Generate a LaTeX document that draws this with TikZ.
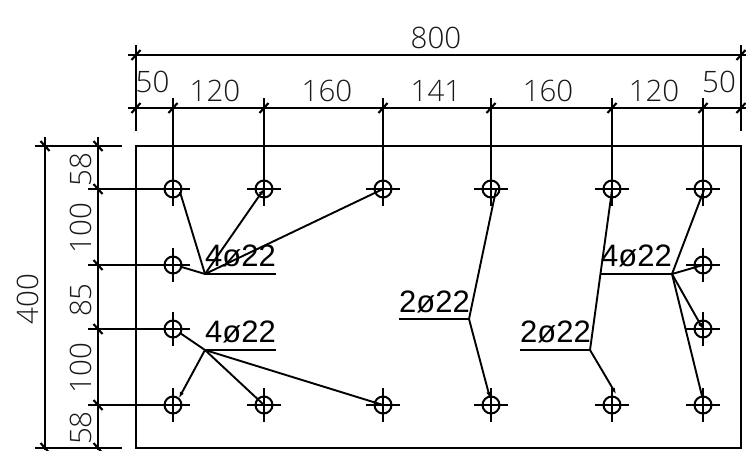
\documentclass[tikz,border=0pt]{standalone}
\usepackage{fontspec}
\usetikzlibrary{arrows.meta}
\setmainfont{Liberation Sans}
\newfontfamily\dimfont{Open Sans Light}
\begin{document}
\begin{tikzpicture}[x=1pt,y=-1pt,
  ln/.style={line width=1.9pt,black},
  tk/.style={line width=2.1pt,black},
  ldr/.style={line width=1.9pt,black,-{Latex[length=6pt,width=4.5pt]}},
  dimtxt/.style={inner sep=0pt,font=\dimfont\fontsize{29.5}{29.5}\selectfont,text=black!90},
  rebartxt/.style={inner sep=0pt,anchor=base west,font=\fontsize{31}{31}\selectfont,text=black},
  barcirc/.style={circle,draw,line width=2pt,minimum size=17pt,inner sep=0pt}]
\useasboundingbox (0,0) rectangle (746,450);
% bars
\foreach \n/\x/\y in {a1/173/189,a2/264/189,a3/383/189,a4/491/189,a5/612/189,a6/703/189,
  b1/173/265,b6/703/265,c1/173/329,c6/703/329,
  d1/173/405,d2/264/405,d3/383/405,d4/491/405,d5/612/405,d6/703/405}{
  \node[barcirc] (\n) at (\x,\y) {};
  \draw[ln] (\x-17,\y) -- (\x+17,\y) (\x,\y-17) -- (\x,\y+17);
}
% slab
\draw[ln] (136,146) rectangle (741,448);
% dimension lines top
\coordinate (tl) at (128,55); \coordinate (tr) at (746,55);
\coordinate (ml) at (128,108); \coordinate (mr) at (746,108);
\draw[ln] (tl) -- (tr);
\draw[ln] (ml) -- (mr);
\draw[tk] (136,45) -- (136,131);
\draw[tk] (741,45) -- (741,131);
\foreach \n in {a1,a2,a3,a4,a5,a6}{
  \draw[ln] (\n |- 0,98) -- (\n);
}
\foreach \x/\y in {136/55,741/55,136/108,173/108,264/108,383/108,491/108,612/108,703/108,741/108}{
  \draw[tk] (\x-4.5,\y+5) -- (\x+4.5,\y-5);
}
% dimension lines left
\coordinate (h1) at (35,146); \coordinate (h2) at (122,146);
\coordinate (h3) at (35,448); \coordinate (h4) at (122,448);
\draw[ln] (h1) -- (h2);
\draw[ln] (h3) -- (h4);
\draw[tk] (45,137) -- (45,450);
\draw[tk] (98,137) -- (98,450);
\foreach \n in {a1,b1,c1,d1}{
  \draw[ln] (88,0 |- \n) -- (\n);
}
\foreach \x/\y in {45/146,98/146,98/189,98/265,98/329,98/405,45/448,98/448}{
  \draw[tk] (\x-4.5,\y-5) -- (\x+4.5,\y+5);
}
% dimension texts
\node[dimtxt] (t800) at (436,38) {800};
\node[dimtxt] (t50a) at (152.5,82) {50};
\node[dimtxt] (t120a) at (215,91) {120};
\node[dimtxt] (t160a) at (327,91) {160};
\node[dimtxt] (t141) at (436,91) {141};
\node[dimtxt] (t160b) at (548,91) {160};
\node[dimtxt] (t120b) at (654,91) {120};
\node[dimtxt] (t50b) at (719,82) {50};
\node[dimtxt,rotate=90] (t58a) at (81,170) {58};
\node[dimtxt,rotate=90] (t100a) at (81,228) {100};
\node[dimtxt,rotate=90] (t85) at (81,300) {85};
\node[dimtxt,rotate=90] (t100b) at (81,368) {100};
\node[dimtxt,rotate=90] (t58b) at (81,428) {58};
\node[dimtxt,rotate=90] (t400) at (28,299) {400};
% hubs
\coordinate (h1a) at (205,274); \coordinate (h1b) at (276,274);
\coordinate (h2a) at (205,350); \coordinate (h2b) at (276,350);
\coordinate (h3a) at (399,319); \coordinate (h3b) at (469,319);
\coordinate (h4a) at (520,350); \coordinate (h4b) at (590,350);
\coordinate (h5a) at (601,274); \coordinate (h5b) at (672,274);
\draw[ln] (h1a) -- (h1b) (h2a) -- (h2b) (h3a) -- (h3b) (h4a) -- (h4b) (h5a) -- (h5b);
\node[rebartxt] (l1) at (205,266) {4ø22};
\node[rebartxt] (l2) at (205,342.7) {4ø22};
\node[rebartxt] (l3) at (399,312) {2ø22};
\node[rebartxt] (l4) at (520,342.7) {2ø22};
\node[rebartxt] (l5) at (601,266) {4ø22};
% leaders
\draw[ln] (h1a) -- (180,192);
\draw[ln] (h1a) -- (180,266.5);
\draw[ldr] (h1a) -- (a2.center);
\draw[ln] (h1a) -- (a3.center);
\draw[ln] (h2a) -- (180,333);
\draw[ldr] (h2a) -- (179,398);
\draw[ln] (h2a) -- (d2.center);
\draw[ln] (h2a) -- (d3.center);
\draw[ln] (h3b) -- (496,190);
\draw[ldr] (h3b) -- (490,398);
\draw[ln] (h4b) -- (612,190);
\draw[ldr] (h4b) -- (616,394);
\draw[ln] (h5b) -- (704,190);
\draw[ln] (h5b) -- (b6.center);
\draw[ldr] (h5b) -- (c6.center);
\draw[ln] (h5b) -- (702,396);
\end{tikzpicture}
\end{document}
